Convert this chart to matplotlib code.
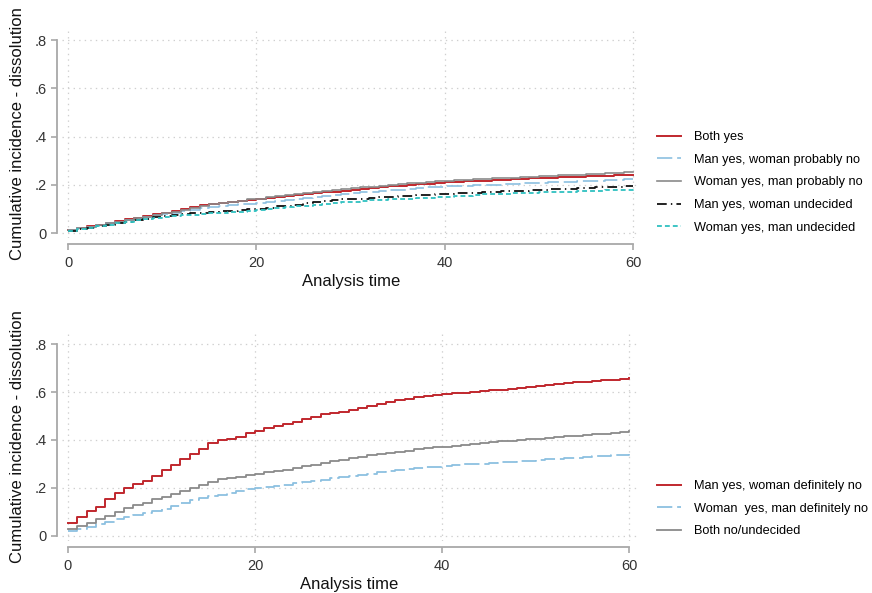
import matplotlib
matplotlib.use("Agg")
import matplotlib.pyplot as plt
import numpy as np

plt.rcParams['font.family'] = ['Liberation Sans', 'DejaVu Sans']
plt.rcParams['lines.scale_dashes'] = False

# ---- data (months 0..60) ----
months = list(range(61))

# Top panel
both_yes = [.013, .020, .027, .034, .042, .049, .056, .063, .070, .077, .084, .091, .099, .107, .115,
            .121, .126, .130, .134, .138, .141, .145, .149, .153, .157, .160, .164, .168, .171, .175,
            .179, .182, .186, .189, .193, .196, .199, .202, .205, .208, .210, .212, .214, .216, .217,
            .219, .221, .223, .225, .227, .229, .230, .231, .233, .234, .235, .236, .238, .239, .241, .242]
man_yes_woman_prob_no = [.012, .019, .026, .033, .040, .046, .052, .059, .066, .073, .079, .085, .091, .097, .103,
                         .108, .112, .116, .119, .122, .126, .130, .134, .138, .142, .146, .151, .155, .159, .162,
                         .165, .168, .171, .174, .177, .180, .183, .186, .189, .191, .193, .195, .196, .198, .199,
                         .201, .203, .205, .206, .208, .209, .210, .212, .213, .214, .216, .217, .219, .220, .222, .223]
woman_yes_man_prob_no = [.013, .019, .026, .033, .040, .047, .054, .061, .068, .075, .082, .089, .097, .105, .112,
                         .119, .124, .129, .134, .139, .143, .148, .153, .157, .161, .165, .169, .174, .178, .181,
                         .185, .189, .192, .196, .199, .203, .206, .209, .212, .215, .217, .219, .221, .223, .224,
                         .226, .228, .230, .232, .234, .236, .237, .239, .241, .242, .244, .246, .248, .250, .251, .253]
man_yes_woman_undec = [.010, .016, .022, .029, .035, .041, .047, .053, .059, .065, .070, .074, .078, .082, .085,
                       .088, .090, .093, .095, .098, .100, .105, .110, .114, .118, .123, .128, .133, .137, .139,
                       .141, .143, .145, .148, .150, .152, .154, .156, .158, .160, .162, .164, .166, .167, .169,
                       .171, .173, .175, .176, .178, .180, .181, .183, .184, .186, .187, .189, .190, .192, .193, .195]
woman_yes_man_undec = [.010, .016, .022, .028, .035, .041, .047, .052, .057, .062, .066, .070, .073, .076, .079,
                       .082, .084, .087, .089, .092, .094, .098, .102, .106, .110, .114, .118, .122, .126, .128,
                       .130, .133, .135, .137, .139, .141, .143, .145, .147, .149, .151, .153, .155, .157, .160,
                       .161, .163, .164, .166, .167, .168, .170, .171, .172, .174, .175, .176, .177, .179, .180, .182]

# Bottom panel
man_yes_woman_def_no = [.055, .080, .103, .122, .154, .180, .200, .217, .230, .250, .275, .297, .320, .342, .362,
                        .386, .400, .405, .414, .428, .439, .449, .458, .467, .476, .486, .497, .508, .514, .518,
                        .525, .532, .542, .549, .558, .567, .572, .578, .583, .588, .592, .595, .597, .600, .604,
                        .607, .610, .614, .618, .621, .625, .628, .632, .636, .640, .643, .646, .649, .652, .655, .657]
woman_yes_man_def_no = [.022, .030, .039, .050, .060, .069, .078, .087, .095, .103, .111, .123, .136, .150, .160,
                        .166, .171, .178, .186, .194, .201, .205, .210, .214, .219, .224, .229, .235, .240, .247,
                        .252, .256, .260, .265, .270, .275, .279, .282, .286, .289, .293, .295, .298, .300, .302,
                        .304, .307, .309, .312, .314, .317, .319, .322, .324, .327, .329, .332, .334, .337, .339, .342]
both_no_undec = [.028, .042, .055, .070, .085, .101, .115, .128, .139, .153, .164, .175, .189, .202, .214,
                 .226, .236, .243, .247, .253, .258, .265, .271, .277, .283, .290, .296, .303, .311, .318,
                 .323, .330, .336, .341, .346, .351, .356, .361, .365, .369, .372, .375, .379, .383, .387,
                 .391, .394, .397, .400, .403, .406, .409, .412, .415, .418, .421, .424, .427, .430, .433, .436]

top_labels = ["Both yes", "Man yes, woman probably no", "Woman yes, man probably no",
              "Man yes, woman undecided", "Woman yes, man undecided"]
bot_labels = ["Man yes, woman definitely no", "Woman  yes, man definitely no", "Both no/undecided"]

x_ticks = [0, 20, 40, 60]
y_ticks = [0, 0.2, 0.4, 0.6, 0.8]
y_ticklabels = ["0", ".2", ".4", ".6", ".8"]

RED = '#c0272d'
LBLUE = '#8cc0e0'
GRAY = '#8a8a8a'
BLACK = '#111111'
CYAN = '#2fc0c0'

W, H = 872, 593
fig = plt.figure(figsize=(W / 100, H / 100), dpi=100)
fig.patch.set_facecolor('white')


def px_axes(l, t, r, b):
    return fig.add_axes([l / W, 1 - b / H, (r - l) / W, (b - t) / H])


def style(ax, xlim, ylim):
    ax.set_xlim(*xlim)
    ax.set_ylim(*ylim)
    for s in ['top', 'right']:
        ax.spines[s].set_visible(False)
    ax.spines['left'].set_position(('outward', 3.5))
    ax.spines['bottom'].set_position(('outward', 4.5))
    ax.spines['left'].set_bounds(0, 0.8)
    ax.spines['bottom'].set_bounds(0, 60)
    for s in ['left', 'bottom']:
        ax.spines[s].set_color('#a8a8a8')
        ax.spines[s].set_linewidth(1.3)
    ax.set_xticks(x_ticks)
    ax.set_yticks(y_ticks)
    ax.set_yticklabels(y_ticklabels)
    ax.tick_params(axis='both', colors='#a8a8a8', labelcolor='#333333', labelsize=10.5,
                   length=4.5, width=1.2)
    ax.tick_params(axis='y', pad=3)
    ax.tick_params(axis='x', pad=4)
    ax.grid(True, linestyle=(0, (1, 3)), color='#cfcfcf', linewidth=0.9)
    ax.set_axisbelow(True)
    ax.set_xlabel("Analysis time", fontsize=12, color='#111111', labelpad=3)
    ax.set_ylabel("Cumulative incidence - dissolution", fontsize=12, color='#111111', labelpad=7)


LEG = dict(loc='upper left', frameon=False, fontsize=9.2, handlelength=1.85, handletextpad=1.05,
           labelspacing=0.84, borderpad=0, borderaxespad=0)

# ---- top panel ----
ax1 = px_axes(62, 30, 640, 238)
style(ax1, (-0.64, 60.74), (-0.0207, 0.8415))
h = []
h += ax1.step(months, both_yes, where='post', color=RED, lw=1.4)
h += ax1.step(months, man_yes_woman_prob_no, where='post', color=LBLUE, lw=1.2, dashes=(11, 3.5))
h += ax1.step(months, woman_yes_man_prob_no, where='post', color=GRAY, lw=1.2)
h += ax1.step(months, man_yes_woman_undec, where='post', color=BLACK, lw=1.3, dashes=(7, 3, 1, 3))
h += ax1.step(months, woman_yes_man_undec, where='post', color=CYAN, lw=1.3, dashes=(3.5, 2.2))
fig.legend(h, top_labels, bbox_to_anchor=(657 / W, 1 - 131 / H),
           bbox_transform=fig.transFigure, **LEG)

# ---- bottom panel ----
ax2 = px_axes(62, 333, 637, 541)
style(ax2, (-0.64, 60.82), (-0.021, 0.846))
g = []
g += ax2.step(months, man_yes_woman_def_no, where='post', color=RED, lw=1.4)
g += ax2.step(months, woman_yes_man_def_no, where='post', color=LBLUE, lw=1.3, dashes=(11, 3.5))
g += ax2.step(months, both_no_undec, where='post', color=GRAY, lw=1.3)
fig.legend(g, bot_labels, bbox_to_anchor=(657 / W, 1 - 480 / H),
           bbox_transform=fig.transFigure, **LEG)

fig.savefig("out.png", dpi=100, facecolor='white')
